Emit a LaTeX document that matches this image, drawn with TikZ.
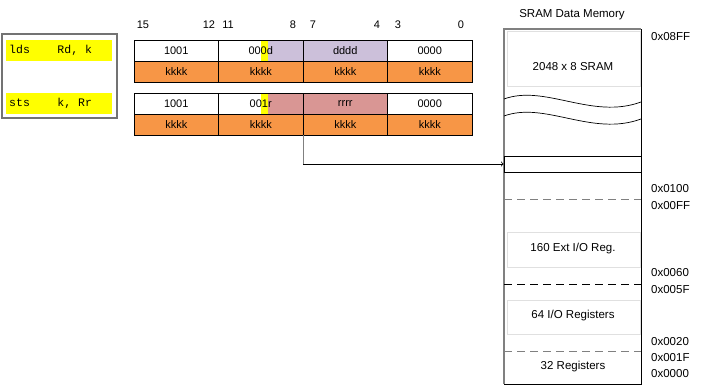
\documentclass[tikz,border=0pt]{standalone}
\usepackage{fontspec}
\setmainfont{Liberation Sans}
\setmonofont{Liberation Mono}
\usepackage{tikz}
\usetikzlibrary{arrows}

\definecolor{kkorange}{HTML}{F79646}
\definecolor{ddlilac}{HTML}{CCC0DA}
\definecolor{rrrose}{HTML}{D99694}
\definecolor{hiyellow}{HTML}{FFFF00}

\tikzset{
  cell/.style={draw=black, line width=0.8pt, minimum width=84.5pt, minimum height=21pt,
    inner sep=0pt, font=\fontsize{11}{13}\selectfont},
  kcell/.style={cell, fill=kkorange},
  bitno/.style={font=\fontsize{11}{13}\selectfont, inner sep=0pt},
  addr/.style={anchor=west, inner sep=0pt, font=\fontsize{11.5}{13}\selectfont},
  memtext/.style={font=\fontsize{11.5}{13}\selectfont, inner sep=0pt},
  textbox/.style={draw=black!12, line width=0.6pt},
  asm/.style={anchor=west, inner sep=0pt, font=\ttfamily\fontsize{11.5}{13}\selectfont}
}

\begin{document}
\begin{tikzpicture}[x=1pt,y=-1pt]
  \useasboundingbox (0,0) rectangle (716,388);

  % instruction box
  \draw[black!55, line width=1.3pt] (2,34) rectangle (117,118);
  \fill[hiyellow] (6,40) rectangle (112,61);
  \fill[hiyellow] (6,93) rectangle (112,114);
  \node[asm] (lds) at (9,50.5) {lds\ \ \ \ Rd, k};
  \node[asm] (sts) at (9,103.5) {sts\ \ \ \ k, Rr};

  % bit numbers
  \node[bitno] (b15) at (143,25) {15};
  \node[bitno] (b12) at (209,25) {12};
  \node[bitno] (b11) at (228,25) {11};
  \node[bitno] (b8) at (293,25) {8};
  \node[bitno] (b7) at (313,25) {7};
  \node[bitno] (b4) at (377,25) {4};
  \node[bitno] (b3) at (398,25) {3};
  \node[bitno] (b0) at (461,25) {0};

  % highlights behind the opcode bits
  \fill[ddlilac] (268,40) rectangle (303,61);
  \fill[hiyellow] (261,40) rectangle (268,61);
  \fill[rrrose] (268,93) rectangle (303,114);
  \fill[hiyellow] (261,93) rectangle (268,114);

  % lds Rd, k
  \node[cell] (a1) at (176.25,50.5) {1001};
  \node[cell] (a2) at (260.75,50.5) {000d};
  \node[cell, fill=ddlilac] (a3) at (345.25,50.5) {dddd};
  \node[cell] (a4) at (429.75,50.5) {0000};
  \node[kcell] (b1) at (176.25,71.5) {kkkk};
  \node[kcell] (b2) at (260.75,71.5) {kkkk};
  \node[kcell] (b3) at (345.25,71.5) {kkkk};
  \node[kcell] (b4) at (429.75,71.5) {kkkk};

  % sts k, Rr
  \node[cell] (c1) at (176.25,103.5) {1001};
  \node[cell] (c2) at (260.75,103.5) {001r};
  \node[cell, fill=rrrose] (c3) at (345.25,103.5) {rrrr};
  \node[cell] (c4) at (429.75,103.5) {0000};
  \node[kcell] (d1) at (176.25,124.5) {kkkk};
  \node[kcell] (d2) at (260.75,124.5) {kkkk};
  \node[kcell] (d3) at (345.25,124.5) {kkkk};
  \node[kcell] (d4) at (429.75,124.5) {kkkk};

  % SRAM data memory
  \node[memtext] (title) at (572,15) {SRAM Data Memory};
  \draw[textbox] (507,31) rectangle (640,86);
  \draw[textbox] (507,232) rectangle (640,267);
  \draw[textbox] (507,300) rectangle (640,334);
  \draw[black!50, line width=1.2pt] (504,384) -- (504,29) -- (641,29);
  \draw[black, line width=0.8pt] (641,29) -- (641,384) -- (504,384);
  \node[memtext] (sram) at (573,67) {2048 x 8 SRAM};
  \draw[line width=0.7pt] (504,99) .. controls (545,84) and (592,120) .. (641,102);
  \draw[line width=0.7pt] (504,116) .. controls (545,101) and (592,137) .. (641,119);
  \node[draw, line width=0.8pt, minimum width=137pt, minimum height=16pt, inner sep=0pt]
    (slot) at (572.5,164) {};
  \draw[black!50, dashed, dash pattern=on 8pt off 5pt, line width=1pt] (504,199) -- (641,199);
  \draw[black, dash pattern=on 8pt off 5pt, line width=1pt] (504,284) -- (641,284);
  \draw[black!50, dash pattern=on 8pt off 5pt, line width=1pt] (504,351) -- (641,351);
  \node[memtext] (ext) at (573,249) {160 Ext I/O Reg.};
  \node[memtext] (io) at (573,316) {64 I/O Registers};
  \node[memtext] (regs) at (573,367) {32 Registers};

  \node[addr] (x08ff) at (651,37) {0x08FF};
  \node[addr] (x0100) at (651,189) {0x0100};
  \node[addr] (x00ff) at (651,206) {0x00FF};
  \node[addr] (x0060) at (651,273) {0x0060};
  \node[addr] (x005f) at (651,290) {0x005F};
  \node[addr] (x0020) at (651,342) {0x0020};
  \node[addr] (x001f) at (651,358) {0x001F};
  \node[addr] (x0000) at (651,374) {0x0000};

  % address k points into the memory
  \coordinate (bend) at (d2.south east |- slot.west);
  \draw[black!50, line width=0.8pt] (d2.south east) -- (bend);
  \draw[->, line width=0.8pt] (bend) -- (slot.west);

\end{tikzpicture}
\end{document}
